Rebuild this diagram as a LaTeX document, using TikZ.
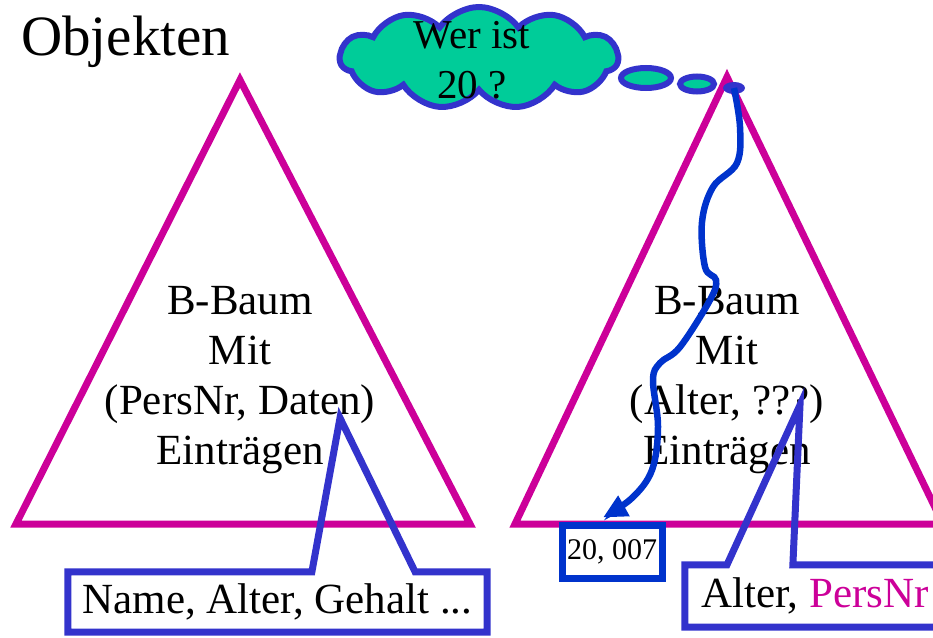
\documentclass[tikz,border=0pt]{standalone}
\usepackage{fontspec}
\setmainfont{Liberation Serif}
\usepackage{tikz}
\usetikzlibrary{arrows.meta, shapes.geometric, shapes.symbols, calc}
\definecolor{treemag}{HTML}{CC0099}
\definecolor{callblue}{HTML}{3333CC}
\definecolor{pathblue}{HTML}{0033CC}
\definecolor{cloudgreen}{HTML}{00CC99}
\tikzset{
  bigtext/.style={
    font=\fontsize{43}{50}\selectfont, align=center, inner sep=0pt
  },
  treeline/.style={
    draw=treemag, line width=7pt, line join=miter
  },
  calloutline/.style={
    draw=callblue, line width=7pt, line join=miter
  },
  bubble/.style={
    ellipse, draw=callblue, fill=cloudgreen, line width=6pt, inner sep=0pt
  },
  searcharrow/.style={
    -{Triangle[length=24pt, width=22pt]}, draw=pathblue, line width=6.5pt
  },
}

\begin{document}
\begin{tikzpicture}[x=1pt, y=-1pt]
  \useasboundingbox (0,0) rectangle (933,637);

  % --- title ---
  \node[font=\fontsize{57}{60}\selectfont, anchor=west, inner sep=0pt] (title) at (21,42) {Objekten};

  % --- left tree: primary B-Baum ---
  \coordinate (ltop) at (240,80);
  \draw[treeline] (ltop) -- (470,524) -- (16,524) -- cycle;
  \node[bigtext] (ltext) at (240,380) {B-Baum\\Mit\\(PersNr, Daten)\\Einträgen};

  % --- right tree: secondary B-Baum ---
  \coordinate (rtop) at (727,77);
  \draw[treeline] (rtop) -- (943,524) -- (515,524) -- cycle;
  \node[bigtext] (rtext) at (727,380) {B-Baum\\Mit\\(Alter, ???)\\Einträgen};

  % --- thought cloud ---
  \node[cloud, cloud puffs=11, cloud puff arc=110, aspect=2.6, draw=callblue, fill=cloudgreen,
        line width=6pt, minimum width=278pt, minimum height=102pt, inner sep=0pt] (cloud) at (479,58) {};
  \node[bigtext, font=\fontsize{41}{50}\selectfont] (question) at (472,60) {Wer ist\\20 ?};
  \node[bubble, minimum width=50pt, minimum height=20pt] (bub1) at (646,78) {};
  \node[bubble, minimum width=34pt, minimum height=15pt] (bub2) at (697,84) {};
  \node[ellipse, fill=callblue, minimum width=22pt, minimum height=12pt, inner sep=0pt] (qdot) at (734,88) {};

  % --- callout for left tree ---
  \node[bigtext, minimum width=419pt, minimum height=60pt] (namebox) at (277.5,602) {Name, Alter, Gehalt ...};
  \coordinate (lapex) at (340,418);
  \draw[calloutline]
    ($(namebox.north west)!0.582!(namebox.north east)$) -- (namebox.north west)
    -- (namebox.south west) -- (namebox.south east) -- (namebox.north east)
    -- ($(namebox.north west)!0.828!(namebox.north east)$) -- (lapex) -- cycle;

  % --- callout for right tree ---
  \node[bigtext, minimum width=260pt, minimum height=62pt] (keybox) at (815,596) {Alter, \textcolor{treemag}{PersNr}};
  \coordinate (rapex) at (800,405);
  \draw[calloutline]
    ($(keybox.north west)!0.162!(keybox.north east)$) -- (keybox.north west)
    -- (keybox.south west) -- (keybox.south east) -- (keybox.north east)
    -- ($(keybox.north west)!0.415!(keybox.north east)$) -- (rapex) -- cycle;

  % --- found entry ---
  \node[draw=pathblue, line width=7pt, fill=white, font=\fontsize{30}{32}\selectfont,
        minimum width=100pt, minimum height=53pt, inner sep=0pt] (hit) at (612,551.5) {20, 007};
  \coordinate (hitend) at ($(hit.north)+(-9,-4)$);

  % --- search path ---
  \draw[searcharrow] plot[smooth, tension=0.6] coordinates {(qdot.center) (740,127) (737,163) (713,187)
    (702,222) (705,267) (716,280) (710,300) (680,347) (660,363) (653,380) (658,427) (652,470) (632,498) (hitend)};

\end{tikzpicture}
\end{document}
